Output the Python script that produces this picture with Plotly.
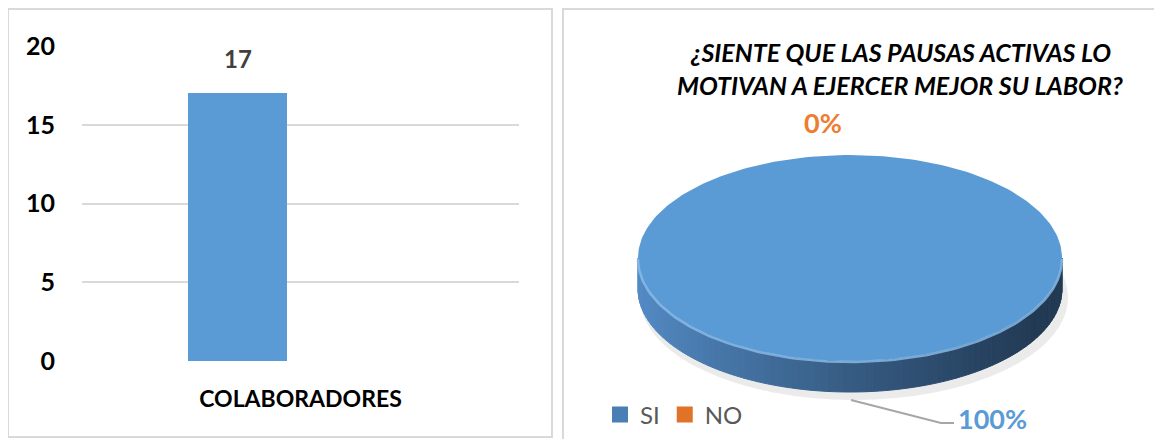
import numpy as np
import plotly.graph_objects as go

# data
categories = ["COLABORADORES"]
colaboradores = [17]
y_ticks = [0, 5, 10, 15, 20]

pie_title = ["¿SIENTE QUE LAS PAUSAS ACTIVAS LO", "MOTIVAN A EJERCER MEJOR SU LABOR?"]
pie_labels = ["SI", "NO"]
pie_counts = [17, 0]

# the page body keeps its default 8px margin, so the figure is drawn 8px smaller
# and every position below is given in screen pixels, then shifted.
W, H = 1162, 439
PAD = 8
FW, FH = W - PAD, H - PAD
FONT = "Lato, 'Open Sans', Arial, sans-serif"
pie_colors = {"SI": "#5b9bd5", "NO": "#ed7d31"}


def px(x):
    return (x - PAD) / FW


def py(y):
    return 1 - (y - PAD) / FH


fig = go.Figure()

# ---- left panel: bar chart
bar_offset, bar_width = -0.257, 0.226
fig.add_trace(go.Bar(
    x=categories, y=colaboradores, xaxis="x", yaxis="y",
    offset=bar_offset, width=bar_width,
    marker=dict(color="#5b9bd5", line=dict(width=0)),
    showlegend=False, hoverinfo="skip",
))
for cat, v in zip(categories, colaboradores):
    fig.add_annotation(
        x=bar_offset + bar_width / 2, y=v, xref="x", yref="y",
        text=str(v), showarrow=False, yanchor="bottom", yshift=18,
        font=dict(family=FONT, size=24, color="#404040", weight="bold"),
    )

# ---- right panel: 3d-looking pie drawn on a hidden pixel axis
cx, cy, rx, ry, depth = 850, 258, 212, 103, 31


def ell(t):
    t = np.radians(t)
    return cx + rx * np.sin(t), cy - ry * np.cos(t)


def mix(c1, c2, f):
    return "rgb(%d,%d,%d)" % tuple(int(a + (b - a) * f) for a, b in zip(c1, c2))


total = sum(pie_counts)
shares = [c / total for c in pie_counts]

# soft shadow
fig.add_shape(type="circle", xref="x2", yref="y2",
              x0=cx - rx + 2, x1=cx + rx + 6, y0=cy - ry + 40, y1=cy + ry + depth + 8,
              fillcolor="#ebebeb", line=dict(width=0), layer="below")

side_left = (84, 140, 198)
side_right = (34, 58, 84)
start = 0.0
mids = []
for lab, share in zip(pie_labels, shares):
    a0, a1 = start * 360, (start + share) * 360
    mids.append((a0 + a1) / 2)
    start += share
    if a1 <= a0:
        continue
    # side wall (front half only), shaded left -> right
    lo, hi = max(a0, 90), min(a1, 270)
    if hi > lo:
        ts = np.linspace(lo, hi, 91)
        for i in range(len(ts) - 1):
            xa, ya = ell(ts[i])
            xb, yb = ell(ts[i + 1])
            f = ((xa + xb) / 2 - (cx - rx)) / (2 * rx)
            if lab == "SI":
                col = mix(side_left, side_right, min(1, 1.05 * f ** 0.85))
            else:
                col = mix((237, 125, 49), (120, 60, 20), f)
            fig.add_trace(go.Scatter(
                x=[xa, xb, xb, xa, xa], y=[ya, yb, yb + depth, ya + depth, ya],
                xaxis="x2", yaxis="y2", mode="lines", fill="toself",
                fillcolor=col, line=dict(color=col, width=1),
                showlegend=False, hoverinfo="skip",
            ))
    # top face
    ts = np.linspace(a0, a1, 241)
    xs, ys = ell(ts)
    if a1 - a0 < 360:
        xs = np.concatenate([[cx], xs, [cx]])
        ys = np.concatenate([[cy], ys, [cy]])
    fig.add_trace(go.Scatter(
        x=xs, y=ys, xaxis="x2", yaxis="y2", mode="lines", fill="toself",
        fillcolor=pie_colors[lab], line=dict(width=0),
        showlegend=False, hoverinfo="skip",
    ))
    # light rim along the front edge
    if hi > lo:
        xs, ys = ell(np.linspace(lo, hi, 121))
        fig.add_trace(go.Scatter(
            x=xs, y=ys + 1, xaxis="x2", yaxis="y2", mode="lines",
            line=dict(color="rgba(140,190,235,0.8)", width=2.5),
            showlegend=False, hoverinfo="skip",
        ))

# data labels
for lab, share, mid in zip(pie_labels, shares, mids):
    lx, ly = ell(mid)
    pct = "%d%%" % round(share * 100)
    lf = dict(family=FONT, size=27, color=pie_colors[lab], weight="bold")
    if 90 < mid % 360 < 270:
        sx, sy = lx + 1, ly + depth + 8
        ex, ey = sx + 90, sy + 23
        fig.add_trace(go.Scatter(
            x=[sx, ex, ex + 13], y=[sy, ey, ey], xaxis="x2", yaxis="y2",
            mode="lines", line=dict(color="#a6a6a6", width=2),
            showlegend=False, hoverinfo="skip",
        ))
        fig.add_annotation(x=ex + 15, y=ey - 5, xref="x2", yref="y2", text=pct,
                           showarrow=False, xanchor="left", yanchor="middle", font=lf)
    else:
        fig.add_annotation(x=lx - 27, y=ly - 33, xref="x2", yref="y2", text=pct,
                           showarrow=False, xanchor="center", yanchor="middle", font=lf)

# legend entries
legend_marker = {"SI": "#4a7fb5", "NO": "#e07328"}
for lab in pie_labels:
    fig.add_trace(go.Scatter(
        x=[None], y=[None], xaxis="x2", yaxis="y2", mode="markers", name=lab,
        marker=dict(symbol="square", size=16, color=legend_marker[lab]),
    ))

# title
for i, line in enumerate(pie_title):
    fig.add_annotation(
        x=px(900), y=py(52 + 33 * i), xref="paper", yref="paper",
        text=line, showarrow=False, xanchor="center", yanchor="middle",
        font=dict(family=FONT, size=25, color="black", weight="bold", style="italic"),
    )

# panel borders
fig.add_shape(type="rect", xref="paper", yref="paper",
              x0=px(8), x1=px(552), y0=py(437), y1=py(9),
              line=dict(color="#d9d9d9", width=2))
fig.add_shape(type="rect", xref="paper", yref="paper",
              x0=px(563), x1=1.01, y0=-0.02, y1=py(9),
              line=dict(color="#d9d9d9", width=2))

fig.update_layout(
    width=FW, height=FH,
    margin=dict(l=0, r=0, t=0, b=0, autoexpand=False),
    paper_bgcolor="white", plot_bgcolor="rgba(0,0,0,0)",
    bargap=0,
    xaxis=dict(domain=[px(82), px(519)], range=[-0.5, 0.5], type="category",
               showgrid=False, showline=False, zeroline=False, ticks="",
               tickfont=dict(family=FONT, size=23, color="black", weight="bold"),
               ticklabelstandoff=22, anchor="y", fixedrange=True, automargin=False),
    yaxis=dict(domain=[py(361), py(46)], range=[0, 20], tickvals=y_ticks,
               showgrid=True, gridcolor="#d9d9d9", gridwidth=2, zeroline=False,
               showline=False, ticks="",
               tickfont=dict(family=FONT, size=25, color="black", weight="bold"),
               ticklabelstandoff=26, anchor="x", fixedrange=True, automargin=False),
    xaxis2=dict(domain=[px(563), 1], range=[563, W], visible=False, anchor="y2", fixedrange=True),
    yaxis2=dict(domain=[0, 1], range=[H, PAD], visible=False, anchor="x2", fixedrange=True),
    legend=dict(orientation="h", x=px(600), y=py(415), xanchor="left", yanchor="middle",
                font=dict(family=FONT, size=24, color="#595959"),
                bgcolor="rgba(0,0,0,0)", itemwidth=30, tracegroupgap=0),
)

fig.write_html("out.html")
